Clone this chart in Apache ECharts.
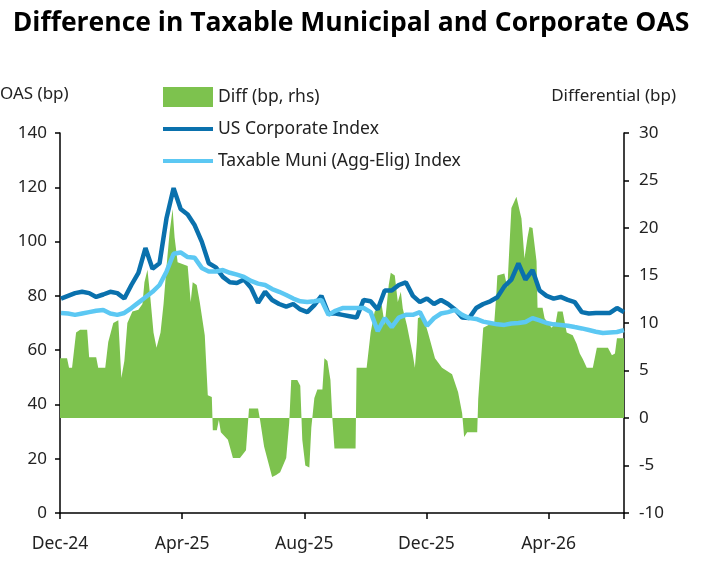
<!DOCTYPE html>
<html><head><meta charset="utf-8">
<script src="https://cdn.jsdelivr.net/npm/echarts@6/dist/echarts.min.js"></script>
<style>html,body{margin:0;padding:0;background:#fff}#c{width:702px;height:563px}</style>
</head><body><div id="c"></div>
<script>
// x values are days since 2024-12-01
const xTickLabels = ['Dec-24', 'Apr-25', 'Aug-25', 'Dec-25', 'Apr-26'];
const tickStepDays = 121.5;
const lastDay = 561;
const weekFirstDay = 1, weekStep = 7; // weekly observations for the OAS lines

const corpOAS = [79, 80, 81, 81.5, 81, 79.6, 80.5, 81.5, 81, 79,
  84, 88.5, 97.6, 90, 92, 108.7, 119.7, 112, 110, 106,
  100, 92, 90.5, 87, 85, 84.7, 86, 83, 77.4, 81.5,
  78.5, 77, 76, 77, 75, 74, 76.6, 80, 73.5, 73.5,
  73, 72.5, 72, 78.5, 78, 75, 82, 82, 84, 85,
  80, 77.7, 79, 77, 78.5, 77, 75, 72, 71.8, 75.5,
  77, 78, 79.5, 83.5, 86, 92, 86, 89.5, 82, 80,
  79, 79.6, 78.5, 77.7, 74, 73.5, 73.7, 73.7, 73.7, 75.5, 74];

const muniOAS = [73.7, 73.5, 73, 73.5, 74, 74.5, 74.8, 73.5, 73, 73.7,
  75.5, 77.5, 79.5, 81.5, 84, 89, 95.5, 96, 94.3, 94,
  90.3, 89, 89, 89.5, 88.5, 87.8, 87, 85.5, 84.5, 84,
  82.5, 81.5, 80.3, 79, 78, 77.7, 78, 78.5, 73, 74.5,
  75.5, 75.5, 75.5, 75.5, 74, 67, 71.8, 68.5, 72, 73,
  73, 74, 69, 71.8, 73.5, 74, 74.8, 73, 71.8, 71.5,
  70.5, 70, 69.5, 69.3, 69.8, 70, 70.4, 71.8, 71, 70,
  69.5, 69.3, 69, 68.5, 68, 67.4, 66.8, 66.3, 66.5, 66.7, 67.4];

const diffDay = [0, 7, 9, 12, 16, 20, 27, 29, 36, 38, 45, 48, 53, 58, 61, 64, 67, 72, 78, 82,
  84, 87, 90, 93, 96, 100, 103, 106, 109, 112, 114, 117, 127, 130, 132, 136, 139, 144, 147, 151,
  152, 156, 158, 160, 167, 172, 179, 185, 188, 197, 199, 203, 206, 211, 215, 219, 225, 228, 230, 236,
  239, 241, 244, 248, 250, 253, 256, 261, 263, 266, 269, 271, 273, 294, 295, 305, 309, 313, 320, 323,
  327, 329, 333, 336, 339, 341, 345, 351, 353, 355, 356, 361, 366, 373, 380, 390, 396, 400, 402, 405,
  410, 415, 416, 421, 432, 434, 435, 442, 445, 447, 449, 454, 459, 462, 465, 467, 470, 474, 475, 480,
  482, 489, 493, 495, 500, 504, 510, 514, 517, 520, 524, 530, 534, 545, 549, 552, 554, 561];
const diffBp = [6.3, 6.3, 5.3, 5.3, 9.0, 9.3, 9.3, 6.4, 6.4, 5.3, 5.3, 8.0, 10.0, 10.3, 4.2, 6.0, 10.0, 11.2, 11.4, 12.0,
  14.3, 15.6, 12.5, 9.0, 7.4, 9.0, 12.0, 16.0, 19.5, 22.0, 19.0, 16.4, 16.0, 12.2, 14.3, 14.0, 12.2, 8.7, 2.4, 2.2,
  -1.3, -1.3, -0.2, -1.5, -2.3, -4.2, -4.2, -3.4, 1.0, 1.0, -0.2, -3.0, -4.2, -6.2, -6.0, -5.7, -4.2, -0.5, 4.0, 4.0,
  3.4, -2.3, -5.0, -5.2, -1.0, 2.1, 3.0, 3.0, 6.3, 6.0, 4.0, -0.2, -3.2, -3.2, 5.3, 5.3, 9.0, 11.2, 11.9, 9.8,
  14.0, 15.3, 15.0, 12.2, 13.3, 11.5, 9.8, 6.6, 5.3, 8.0, 10.5, 10.8, 9.0, 6.3, 5.3, 4.6, 2.7, 0.5, -2.0, -1.5,
  -1.5, -1.5, 2.0, 9.5, 10.1, 13.0, 15.0, 15.2, 13.7, 18.0, 22.1, 23.3, 21.0, 16.8, 19.0, 20.1, 20.0, 16.5, 11.6, 11.6,
  10.5, 9.5, 10.0, 11.2, 11.2, 9.0, 8.7, 7.8, 6.8, 6.2, 5.3, 5.3, 7.4, 7.4, 6.6, 6.8, 8.4, 8.4];

const seriesNames = ['Diff (bp, rhs)', 'US Corporate Index', 'Taxable Muni (Agg-Elig) Index'];
const titleText = 'Difference in Taxable Municipal and Corporate OAS';
const leftAxisName = 'OAS (bp)';
const rightAxisName = 'Differential (bp)';

const FONT = "'Noto Sans', sans-serif";
const GREEN = '#7dc24e', DARK = '#0a71ad', LIGHT = '#5cc8f3';
// thin bar centred in a 50x20 legend box (tiny corner strokes keep the box size)
const LINE_ICON = 'path://M0,0L0.01,0M0,8L50,8L50,12L0,12ZM50,20L49.99,20';

const weekly = arr => arr.map((v, i) => [weekFirstDay + weekStep * i, v]);
const diffData = diffDay.map((d, i) => [d, diffBp[i]]);

const chart = echarts.init(document.getElementById('c'), null, {renderer: 'canvas'});
chart.setOption({
  animation: false,
  backgroundColor: '#fff',
  title: {
    text: titleText, left: 'center', top: 10, padding: 0,
    textStyle: {fontFamily: "'Open Sans', sans-serif", fontWeight: 'bold', fontSize: 26.5, color: '#000'}
  },
  graphic: [
    {type: 'text', left: 0, top: 86, style: {text: leftAxisName, font: "17px 'Noto Sans', sans-serif", fill: '#222'}},
    {type: 'text', right: 26, top: 88, style: {text: rightAxisName, font: "17px 'Noto Sans', sans-serif", fill: '#222'}}
  ],
  legend: {
    orient: 'vertical', left: 163, top: 87, padding: 0, itemWidth: 50, itemHeight: 20, itemGap: 12,
    textStyle: {fontFamily: FONT, fontSize: 17.5, color: '#222'},
    data: [
      {name: seriesNames[0], icon: 'rect'},
      {name: seriesNames[1], icon: LINE_ICON},
      {name: seriesNames[2], icon: LINE_ICON}
    ]
  },
  grid: {left: 60, right: 78, top: 133, bottom: 50},
  xAxis: {
    type: 'value', min: 0, max: lastDay, interval: tickStepDays,
    axisLine: {lineStyle: {color: '#000', width: 1.5}},
    axisTick: {length: 6, lineStyle: {color: '#000', width: 1.5}},
    splitLine: {show: false},
    axisLabel: {
      margin: 22, fontFamily: FONT, fontSize: 17.5, color: '#222',
      formatter: v => {
        const k = Math.round(v / tickStepDays);
        return Math.abs(v / tickStepDays - k) < 0.01 && xTickLabels[k] ? xTickLabels[k] : '';
      }
    }
  },
  yAxis: [
    {
      type: 'value', min: 0, max: 140, interval: 20, position: 'left',
      axisLine: {show: true, lineStyle: {color: '#000', width: 1.5}},
      axisTick: {show: true, length: 5, lineStyle: {color: '#000', width: 1.5}},
      splitLine: {show: false},
      axisLabel: {margin: 13, fontFamily: FONT, fontSize: 17, color: '#222'}
    },
    {
      type: 'value', min: -10, max: 30, interval: 5, position: 'right',
      axisLine: {show: true, lineStyle: {color: '#000', width: 1.5}},
      axisTick: {show: true, length: 5, lineStyle: {color: '#000', width: 1.5}},
      splitLine: {show: false},
      axisLabel: {margin: 15, fontFamily: FONT, fontSize: 17, color: '#222'}
    }
  ],
  series: [
    {
      name: seriesNames[0], type: 'line', yAxisIndex: 1, data: diffData,
      symbol: 'none', lineStyle: {width: 0}, itemStyle: {color: GREEN},
      areaStyle: {color: GREEN, opacity: 1}, z: 1
    },
    {
      name: seriesNames[1], type: 'line', yAxisIndex: 0, data: weekly(corpOAS),
      symbol: 'none', lineStyle: {width: 4.5, color: DARK}, itemStyle: {color: DARK}, z: 2
    },
    {
      name: seriesNames[2], type: 'line', yAxisIndex: 0, data: weekly(muniOAS),
      symbol: 'none', lineStyle: {width: 4.5, color: LIGHT}, itemStyle: {color: LIGHT}, z: 3
    }
  ]
});
</script></body></html>
